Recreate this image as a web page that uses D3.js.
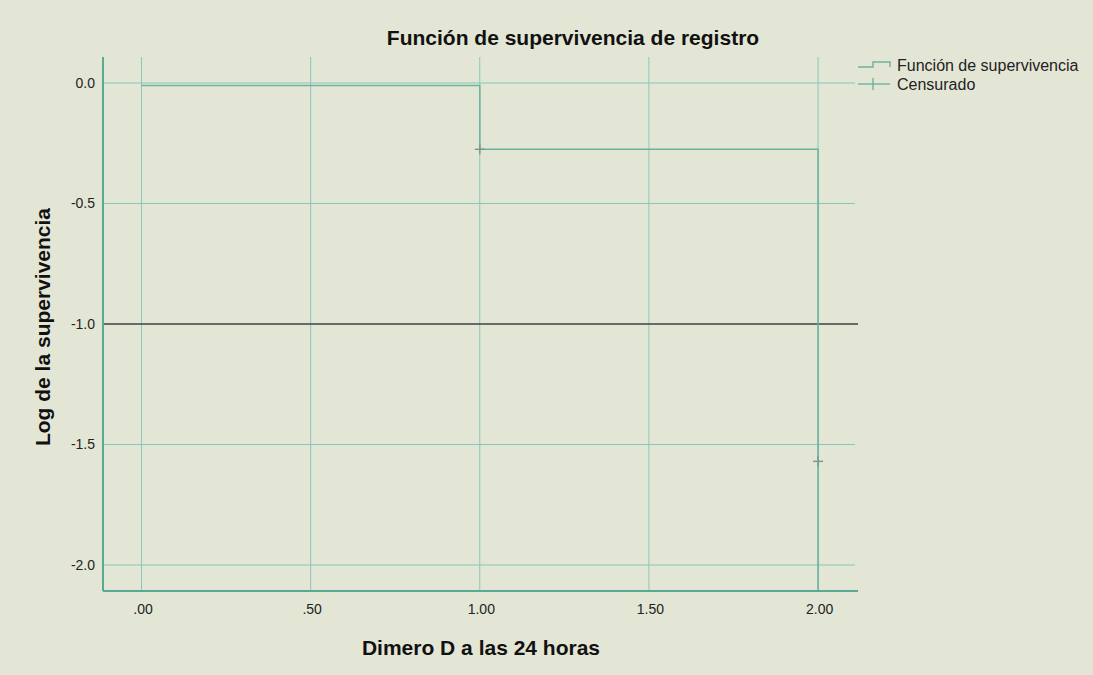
<!DOCTYPE html>
<html>
<head>
<meta charset="utf-8">
<script src="https://cdn.jsdelivr.net/npm/d3@7"></script>
<style>
  html, body { margin: 0; padding: 0; background: #e4e6d5; }
  svg { display: block; }
  text { font-family: "Liberation Sans", Arial, sans-serif; }
</style>
</head>
<body>
<svg id="chart" width="1093" height="675"></svg>
<script>
// Kaplan-Meier style log survival for D-dimer at 24 h
const stepTimes = [0.00, 1.00, 2.00];
const logSurvival = [-0.01, -0.275];          // level held after each step time; survival reaches 0 at the last time
const censoredTimes = [1.00, 2.00];
const censoredLogSurv = [-0.275, -1.57];

const xTicks = [0.00, 0.50, 1.00, 1.50, 2.00];
const xTickLabels = [".00", ".50", "1.00", "1.50", "2.00"];
const yTicks = [0.0, -0.5, -1.0, -1.5, -2.0];
const yTickLabels = ["0.0", "-0.5", "-1.0", "-1.5", "-2.0"];
const referenceLevel = [-1.0];

const legendLabels = ["Función de supervivencia", "Censurado"];

const plot = { left: 103, right: 858, top: 57, bottom: 591 };

const x = d3.scaleLinear().domain([-0.1138, 2.118]).range([plot.left, plot.right]);
const y = d3.scaleLinear().domain([-2.108, 0.108]).range([plot.bottom, plot.top]);

const gridColor = "#86c8b8";
const lineColor = "#6ab2a1";
const axisColor = "#5aa994";

const svg = d3.select("#chart");

// grid lines
const grid = svg.append("g");
grid.selectAll(".vgrid").data(xTicks).join("line")
  .attr("x1", d => x(d)).attr("x2", d => x(d))
  .attr("y1", plot.top).attr("y2", plot.bottom)
  .attr("stroke", gridColor).attr("stroke-width", 1);
grid.selectAll(".hgrid").data(yTicks.filter(d => !referenceLevel.includes(d))).join("line")
  .attr("x1", plot.left).attr("x2", plot.right - 3)
  .attr("y1", d => y(d)).attr("y2", d => y(d))
  .attr("stroke", gridColor).attr("stroke-width", 1);

// reference line at -1
svg.selectAll(".ref").data(referenceLevel).join("line")
  .attr("x1", plot.left).attr("x2", plot.right)
  .attr("y1", d => y(d)).attr("y2", d => y(d))
  .attr("stroke", "#3e4240").attr("stroke-width", 1.5);

// survival step path
const stepPoints = [];
stepTimes.forEach((t, i) => {
  const prev = i === 0 ? logSurvival[0] : logSurvival[i - 1];
  const next = i < logSurvival.length ? logSurvival[i] : y.domain()[0];
  stepPoints.push([t, prev]);
  stepPoints.push([t, next]);
});
const line = d3.line().x(d => x(d[0])).y(d => y(d[1]));
svg.append("path")
  .attr("d", line(stepPoints))
  .attr("fill", "none")
  .attr("stroke", lineColor)
  .attr("stroke-width", 1.5);

// censored marks
const censored = censoredTimes.map((t, i) => [t, censoredLogSurv[i]]);
const cm = svg.append("g");
cm.selectAll(".ch").data(censored).join("line")
  .attr("x1", d => x(d[0]) - 5).attr("x2", d => x(d[0]) + 5)
  .attr("y1", d => y(d[1])).attr("y2", d => y(d[1]))
  .attr("stroke", "#7c9a90").attr("stroke-width", 1.5);
cm.selectAll(".cv").data(censored).join("line")
  .attr("x1", d => x(d[0])).attr("x2", d => x(d[0]))
  .attr("y1", d => y(d[1]) - 5).attr("y2", d => y(d[1]) + 5)
  .attr("stroke", "#7c9a90").attr("stroke-width", 1.5);

// axes
const yAxis = d3.axisLeft(y).tickValues(yTicks).tickSize(0).tickPadding(8)
  .tickFormat((d, i) => yTickLabels[i]);
const xAxis = d3.axisBottom(x).tickValues(xTicks).tickSize(0).tickPadding(13)
  .tickFormat((d, i) => xTickLabels[i]);

const gy = svg.append("g").attr("transform", `translate(${plot.left},0)`).call(yAxis);
gy.select(".domain").remove();
gy.selectAll("text").attr("font-size", 14).attr("fill", "#222")
  .attr("font-family", "'Liberation Sans', Arial, sans-serif");

const gx = svg.append("g").attr("transform", `translate(1,${plot.bottom})`).call(xAxis);
gx.select(".domain").remove();
gx.selectAll("text").attr("font-size", 14).attr("fill", "#222")
  .attr("font-family", "'Liberation Sans', Arial, sans-serif");

svg.append("line")
  .attr("x1", plot.left).attr("x2", plot.left)
  .attr("y1", plot.top).attr("y2", plot.bottom)
  .attr("stroke", axisColor).attr("stroke-width", 2);
svg.append("line")
  .attr("x1", plot.left).attr("x2", plot.right)
  .attr("y1", plot.bottom).attr("y2", plot.bottom)
  .attr("stroke", axisColor).attr("stroke-width", 2);

// titles
svg.append("text")
  .attr("x", 573).attr("y", 45)
  .attr("text-anchor", "middle")
  .attr("font-size", 21).attr("font-weight", "bold").attr("fill", "#111")
  .text("Función de supervivencia de registro");

svg.append("text")
  .attr("x", 481).attr("y", 655)
  .attr("text-anchor", "middle")
  .attr("font-size", 21).attr("font-weight", "bold").attr("fill", "#111")
  .text("Dimero D a las 24 horas");

svg.append("text")
  .attr("transform", "translate(50,327) rotate(-90)")
  .attr("text-anchor", "middle")
  .attr("font-size", 21).attr("font-weight", "bold").attr("fill", "#111")
  .text("Log de la supervivencia");

// legend
const lg = svg.append("g");
lg.append("path")
  .attr("d", "M858,67 H873 V62 H890 V67")
  .attr("fill", "none").attr("stroke", lineColor).attr("stroke-width", 1.4);
lg.append("line")
  .attr("x1", 858).attr("x2", 890).attr("y1", 84).attr("y2", 84)
  .attr("stroke", lineColor).attr("stroke-width", 1.4);
lg.append("line")
  .attr("x1", 873).attr("x2", 873).attr("y1", 78).attr("y2", 90)
  .attr("stroke", lineColor).attr("stroke-width", 1.4);
lg.selectAll(".lt").data(legendLabels).join("text")
  .attr("x", 897).attr("y", (d, i) => 71 + i * 19)
  .attr("font-size", 16).attr("fill", "#222")
  .text(d => d);
</script>
</body>
</html>
